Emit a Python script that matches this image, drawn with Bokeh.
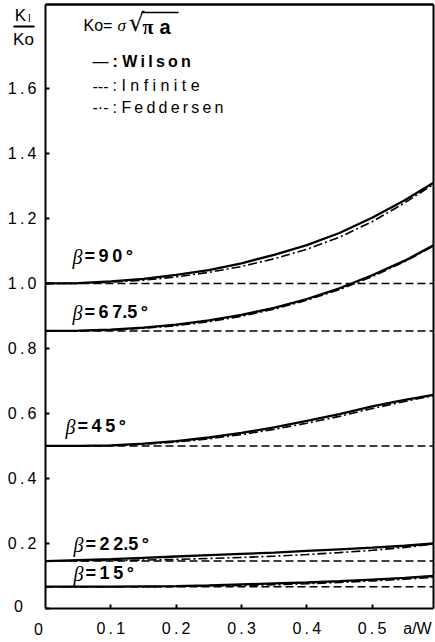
from bokeh.plotting import figure
from bokeh.models import Range1d, FixedTicker, Label, Arrow, LinearAxis
from bokeh.embed import file_html
from bokeh.resources import INLINE

# ---- data ----
a_w = [0.0, 0.05, 0.10, 0.15, 0.20, 0.25, 0.30, 0.35, 0.40, 0.45, 0.50, 0.55, 0.594]

wilson_90 = [1.000, 1.001, 1.006, 1.014, 1.026, 1.041, 1.062, 1.088, 1.118, 1.155, 1.202, 1.256, 1.310]
fedd_90 = [1.000, 1.000, 1.004, 1.010, 1.020, 1.034, 1.052, 1.076, 1.105, 1.142, 1.190, 1.248, 1.305]

wilson_675 = [0.854, 0.855, 0.858, 0.864, 0.873, 0.886, 0.903, 0.925, 0.952, 0.985, 1.025, 1.070, 1.117]
fedd_675 = [0.854, 0.854, 0.856, 0.862, 0.870, 0.882, 0.899, 0.921, 0.948, 0.981, 1.021, 1.067, 1.115]

wilson_45 = [0.500, 0.500, 0.502, 0.507, 0.515, 0.526, 0.540, 0.557, 0.577, 0.598, 0.622, 0.642, 0.657]
fedd_45 = [0.500, 0.500, 0.501, 0.505, 0.512, 0.522, 0.535, 0.551, 0.570, 0.591, 0.615, 0.637, 0.655]

wilson_225 = [0.146, 0.149, 0.152, 0.156, 0.160, 0.164, 0.168, 0.172, 0.177, 0.182, 0.187, 0.193, 0.200]
fedd_225 = [0.146, 0.147, 0.148, 0.149, 0.151, 0.154, 0.157, 0.161, 0.166, 0.172, 0.179, 0.188, 0.198]

wilson_15 = [0.067, 0.067, 0.067, 0.068, 0.069, 0.071, 0.074, 0.077, 0.080, 0.084, 0.089, 0.094, 0.100]
fedd_15 = [0.067, 0.067, 0.067, 0.067, 0.068, 0.069, 0.071, 0.073, 0.076, 0.080, 0.085, 0.090, 0.096]

inf_x = [0.0, 0.594]
inf_90 = [1.0, 1.0]
inf_675 = [0.854, 0.854]
inf_45 = [0.5, 0.5]
inf_225 = [0.146, 0.146]
inf_15 = [0.067, 0.067]

y_ticks = [0, 0.2, 0.4, 0.6, 0.8, 1.0, 1.2, 1.4, 1.6]
y_tick_labels = ["", "0.2", "0.4", "0.6", "0.8", "1.0", "1.2", "1.4", "1.6"]
x_ticks = [0.1, 0.2, 0.3, 0.4, 0.5]
x_tick_labels = ["0.1", "0.2", "0.3", "0.4", "0.5"]

# ---- layout: frame spans the whole canvas, axes fixed inside it ----
X1 = 0.594   # right edge of the chart box (a/W)
Y1 = 1.858   # top edge of the chart box (K/K0)
W, H = 435, 642
BL, BR, BT, BB = 45, 433, 4, 608   # box edges in pixels
SX = (BR - BL) / X1
SY = (BB - BT) / Y1
XA, XB = -BL / SX, (W - BL) / SX
YA, YB = -(H - BB) / SY, BB / SY

p = figure(width=W, height=H, output_backend="svg", toolbar_location=None,
           x_range=Range1d(XA, XB), y_range=Range1d(YA, YB),
           min_border=0)
p.background_fill_color = "white"
p.border_fill_color = "white"
p.outline_line_color = None
p.xgrid.visible = False
p.ygrid.visible = False


def spaced(s):
    return "\u2009".join(s)


def style_axis(ax):
    ax.axis_line_width = 2
    ax.axis_line_color = "black"
    ax.major_tick_in = 4
    ax.major_tick_out = 0
    ax.major_tick_line_width = 2
    ax.minor_tick_line_color = None
    ax.major_label_text_font = "Liberation Sans"
    ax.major_label_text_font_size = "16px"
    ax.major_label_text_color = "black"


yax = p.yaxis[0]
xax = p.xaxis[0]
style_axis(xax)
style_axis(yax)
yax.fixed_location = 0
yax.bounds = (0, Y1)
yax.ticker = FixedTicker(ticks=y_ticks)
yax.major_label_overrides = {t: spaced(s) for t, s in zip(y_ticks, y_tick_labels)}
yax.major_label_standoff = 9
xax.fixed_location = 0
xax.bounds = (0, X1)
xax.ticker = FixedTicker(ticks=x_ticks)
xax.major_label_overrides = {t: spaced(s) for t, s in zip(x_ticks, x_tick_labels)}
xax.major_label_standoff = 11

right_ax = LinearAxis(fixed_location=X1, bounds=(0, Y1), axis_line_width=2,
                      ticker=FixedTicker(ticks=[]), minor_tick_line_color=None,
                      major_tick_line_color=None)
top_ax = LinearAxis(fixed_location=Y1, bounds=(0, X1), axis_line_width=2.5,
                    ticker=FixedTicker(ticks=[]), minor_tick_line_color=None,
                    major_tick_line_color=None)
p.add_layout(right_ax, "right")
p.add_layout(top_ax, "above")

series = [
    (wilson_90, fedd_90, inf_90),
    (wilson_675, fedd_675, inf_675),
    (wilson_45, fedd_45, inf_45),
    (wilson_225, fedd_225, inf_225),
    (wilson_15, fedd_15, inf_15),
]
for w, f, inf in series:
    p.line(inf_x, inf, line_color="black", line_width=1.5, line_dash="8 4")
    p.line(a_w, f, line_color="black", line_width=1.6, line_dash="9 3 2 3")
    p.line(a_w, w, line_color="black", line_width=2.3)


def dx(px_):
    return XA + px_ / W * (XB - XA)


def dy(py_):
    return YB - py_ / H * (YB - YA)


def lab(px_, py_, text, size=16, style="normal", align="left", font="Liberation Sans"):
    p.add_layout(Label(x=dx(px_), y=dy(py_), text=text, text_font=font,
                       text_font_size=f"{size}px", text_font_style=style,
                       text_align=align, text_baseline="middle", text_color="black"))


def bar(x1, x2, y, w=2):
    p.add_layout(Arrow(start=None, end=None, x_start=dx(x1), y_start=dy(y),
                       x_end=dx(x2), y_end=dy(y), line_width=w, line_color="black"))


# y-axis title K_I / K_o
lab(20, 15, "K", 17, align="center")
lab(29, 18, "I", 10, align="center")
bar(13, 34, 26)
lab(23, 39, "Ko", 17, align="center")

# extra tick labels
lab(18, 605, "0", 16, align="center")
lab(38, 628, "0", 16, align="center")
lab(417, 628, "a/W", 16, align="center")

# formula
lab(83, 25, "Ko=", 16)
lab(117, 25, "σ", 17, style="italic", font="Liberation Serif")
lab(128, 22, "√", 25, font="DejaVu Sans")
bar(141, 178, 12, 1.5)
lab(142, 26, "π", 20, style="bold", font="Liberation Serif")
lab(159, 26, "a", 20, style="bold")

# legend
lab(92, 61, "—", 16)
lab(112, 61, ": " + spaced("Wilson"), 16, style="bold")
lab(92, 85, "---", 16)
lab(112, 85, ": I n f i n i t e", 16)
lab(92, 107, "-·-", 16)
lab(112, 107, ": " + spaced("Feddersen"), 16)

# beta labels
for px_, py_, txt in [(72, 255, "=\u20099\u20090\u2009°"), (72, 311, "=\u20096\u20097.5\u2009°"),
                      (65, 425, "=\u20094\u20095\u2009°"), (73, 543, "=\u20092\u20092.5\u2009°"),
                      (73, 572, "=\u20091\u20095\u2009°")]:
    lab(px_, py_ + 1, "β", 20, style="italic", font="Liberation Serif")
    lab(px_ + 12, py_, txt, 18, style="bold")

open("out.html", "w").write(file_html(p, INLINE))
